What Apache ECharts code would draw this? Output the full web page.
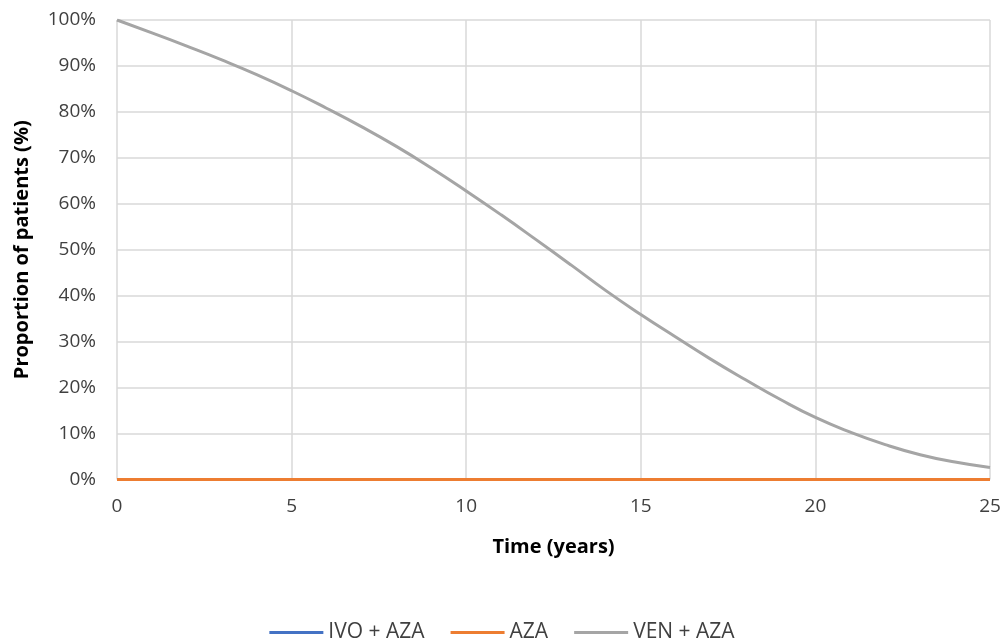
<!DOCTYPE html>
<html>
<head>
<meta charset="utf-8">
<script src="https://cdn.jsdelivr.net/npm/echarts@6/dist/echarts.min.js"></script>
<style>
html,body{margin:0;padding:0;background:#fff;}
#chart{width:1004px;height:641px;}
</style>
</head>
<body>
<div id="chart"></div>
<script>
const years = [0,1,2,3,4,5,6,7,8,9,10,11,12,13,14,15,16,17,18,19,20,21,22,23,24,25];
const ivoAza = [0,0,0,0,0,0,0,0,0,0,0,0,0,0,0,0,0,0,0,0,0,0,0,0,0,0];
const aza    = [0,0,0,0,0,0,0,0,0,0,0,0,0,0,0,0,0,0,0,0,0,0,0,0,0,0];
const venAza = [100,97.2,94.3,91.3,88.1,84.6,80.8,76.8,72.5,67.8,62.8,57.6,52.2,46.7,41.1,35.9,31.0,26.2,21.7,17.4,13.5,10.3,7.6,5.4,3.8,2.6];
const seriesNames = ['IVO + AZA','AZA','VEN + AZA'];
const xTitle = 'Time (years)';
const yTitle = 'Proportion of patients (%)';

const pairs = arr => years.map((t,i)=>[t,arr[i]]);
const font = '"Open Sans", "Noto Sans", sans-serif';
const chart = echarts.init(document.getElementById('chart'));
chart.setOption({
  animation:false,
  backgroundColor:'#fff',
  textStyle:{fontFamily:font},
  grid:{left:117,right:14,top:20,bottom:161.5,containLabel:false},
  xAxis:{
    type:'value',min:0,max:25,interval:5,
    name:xTitle,nameLocation:'middle',nameGap:58,
    nameTextStyle:{fontSize:20,fontWeight:'bold',color:'#000',fontFamily:font},
    axisLine:{show:false},axisTick:{show:false},
    axisLabel:{fontSize:19,color:'#404040',margin:18,fontFamily:font},
    splitLine:{show:true,lineStyle:{color:'#d9d9d9',width:1.5}}
  },
  yAxis:{
    type:'value',min:0,max:100,interval:10,
    name:yTitle,nameLocation:'middle',nameGap:85,nameRotate:90,
    nameTextStyle:{fontSize:20,fontWeight:'bold',color:'#000',fontFamily:font},
    axisLine:{show:false},axisTick:{show:false},
    axisLabel:{formatter:'{value}%',fontSize:19,color:'#404040',margin:21,fontFamily:font},
    splitLine:{show:true,lineStyle:{color:'#d9d9d9',width:1.5}}
  },
  legend:{
    top:617,left:'center',itemWidth:54,itemHeight:3,itemGap:26,
    icon:'rect',
    textStyle:{fontSize:21,color:'#404040',fontFamily:font},
    data:seriesNames
  },
  series:[
    {name:seriesNames[0],type:'line',data:pairs(ivoAza),showSymbol:false,symbol:'none',smooth:true,lineStyle:{color:'#4472C4',width:3},itemStyle:{color:'#4472C4'},z:2},
    {name:seriesNames[1],type:'line',data:pairs(aza),showSymbol:false,symbol:'none',smooth:true,lineStyle:{color:'#ED7D31',width:3},itemStyle:{color:'#ED7D31'},z:3},
    {name:seriesNames[2],type:'line',data:pairs(venAza),showSymbol:false,symbol:'none',smooth:true,lineStyle:{color:'#A5A5A5',width:3},itemStyle:{color:'#A5A5A5'},z:4}
  ]
});
</script>
</body>
</html>
